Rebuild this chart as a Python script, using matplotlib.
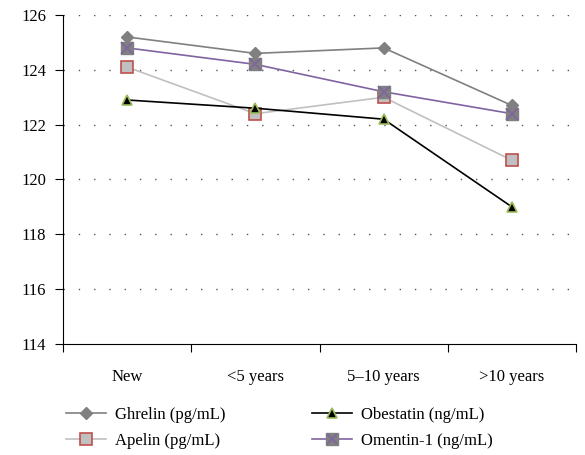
import matplotlib.pyplot as plt
import numpy as np
from matplotlib.lines import Line2D

plt.rcParams['font.family'] = ['Liberation Serif', 'DejaVu Serif']

groups = ["New", "<5 years", "5\u201310 years", ">10 years"]
ghrelin = [125.2, 124.6, 124.8, 122.7]
apelin = [124.1, 122.4, 123.0, 120.7]
obestatin = [122.9, 122.6, 122.2, 119.0]
omentin = [124.8, 124.2, 123.2, 122.4]

fig = plt.figure(figsize=(5.85, 4.55), dpi=100)
ax = fig.add_axes([0.1077, 0.244, 0.877, 0.723])
x = np.arange(len(groups))

ax.plot(x, ghrelin, color="#808080", lw=1.2, marker="D", ms=6,
        mfc="#808080", mec="#808080", zorder=3)
ax.plot(x, apelin, color="#c0c0c0", lw=1.2, marker="s", ms=8,
        mfc="#c0c0c0", mec="#c0504d", mew=1.2, zorder=3)
ax.plot(x, obestatin, color="black", lw=1.2, marker="^", ms=7,
        mfc="black", mec="#9bbb59", mew=1.2, zorder=4)
ax.plot(x, omentin, color="#8064a2", lw=1.2, marker="s", ms=9,
        mfc="#808080", mec="#808080", zorder=5)
ax.plot(x, omentin, ls="none", marker="x", ms=8, mec="#8064a2", mew=1.2, zorder=6)

ax.set_xlim(-0.5, 3.5)
ax.set_ylim(114, 126)
ax.set_yticks(np.arange(114, 127, 2))
ax.set_xticks(np.arange(-0.5, 3.6, 1))
ax.set_xticklabels([])
ax.set_xticks(x, minor=True)
ax.set_xticklabels(groups, minor=True)
ax.tick_params(axis="x", which="major", length=6, direction="out")
ax.tick_params(axis="x", which="minor", length=0, pad=18, labelsize=12)
ax.tick_params(axis="y", length=6, direction="out", labelsize=12, pad=6)

for v in np.arange(116, 127, 2):
    ax.axhline(v, color="#555555", lw=1.0, ls=(0, (1, 10)), zorder=1)

ax.spines["top"].set_visible(False)
ax.spines["right"].set_visible(False)

h1 = Line2D([], [], color="#808080", lw=1.2, marker="D", ms=6, mfc="#808080", mec="#808080")
h2 = Line2D([], [], color="#c0c0c0", lw=1.2, marker="s", ms=8, mfc="#c0c0c0", mec="#c0504d", mew=1.2)
h3 = Line2D([], [], color="black", lw=1.2, marker="^", ms=7, mfc="black", mec="#9bbb59", mew=1.2)
h4a = Line2D([], [], color="#8064a2", lw=1.2, marker="s", ms=8, mfc="#808080", mec="#808080")
h4b = Line2D([], [], ls="none", marker="x", ms=7, mec="#8064a2", mew=1.2)

fig.legend([h1, h2, h3, (h4a, h4b)],
           ["Ghrelin (pg/mL)", "Apelin (pg/mL)", "Obestatin (ng/mL)", "Omentin-1 (ng/mL)"],
           loc="upper left", bbox_to_anchor=(0.112, 0.106), ncol=2, frameon=False,
           fontsize=12, handlelength=2.4, handletextpad=0.55, columnspacing=5.2,
           labelspacing=0.6, borderaxespad=0, borderpad=0)

fig.savefig("out.png", dpi=100)
